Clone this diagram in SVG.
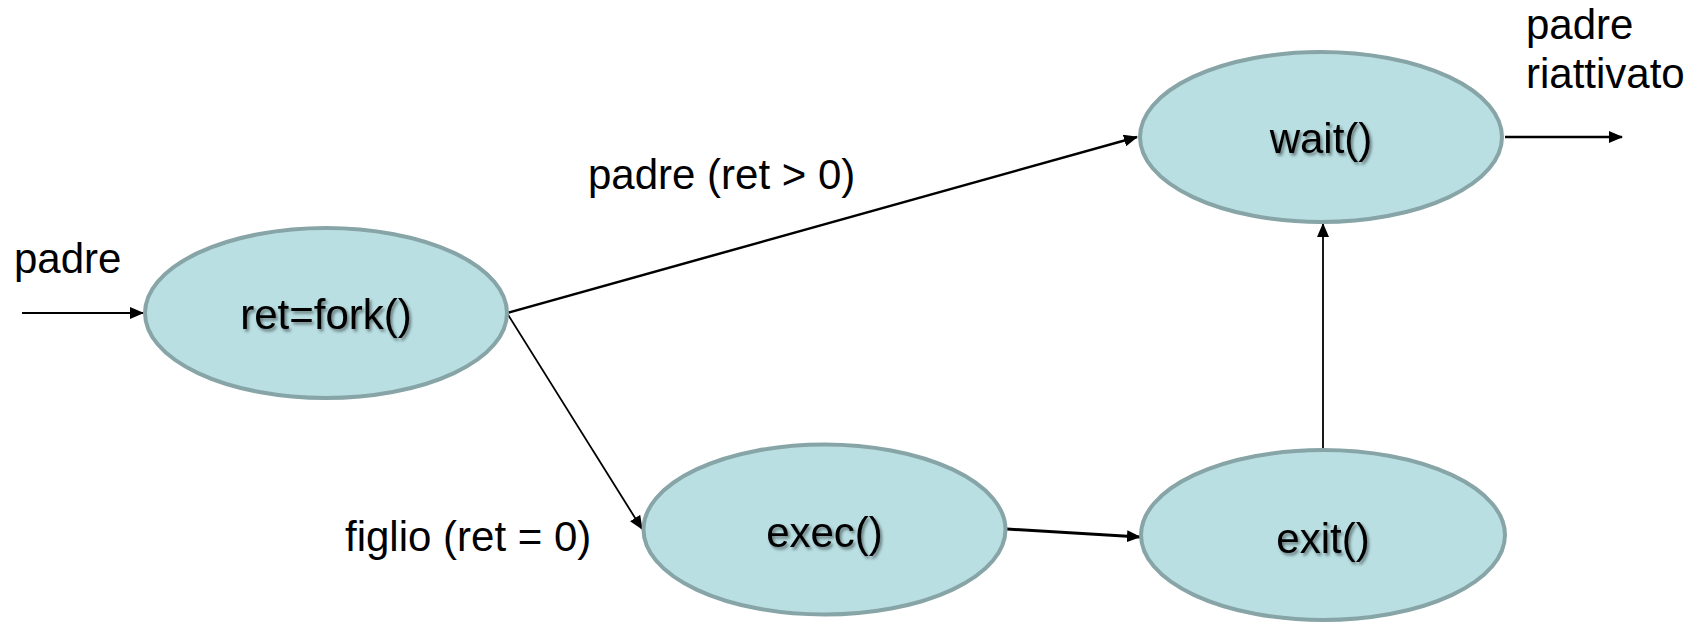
<svg xmlns="http://www.w3.org/2000/svg" width="1700" height="623" viewBox="0 0 1700 623">
<defs>
<marker id="arr" viewBox="0 0 14 12" refX="13" refY="6" markerWidth="14" markerHeight="12" markerUnits="userSpaceOnUse" orient="auto">
<path d="M0,0 L14,6 L0,12 z" fill="#000"/>
</marker>
<filter id="sh" x="-10%" y="-20%" width="130%" height="150%">
<feDropShadow dx="2" dy="2.5" stdDeviation="1.5" flood-color="#000" flood-opacity="0.45"/>
</filter>
</defs>
<style>
.node ellipse{fill:#B9DFE3;stroke:#87A4A7;stroke-width:4}
.node text{font-family:"Liberation Sans",Arial,sans-serif;font-size:42px;fill:#000;text-anchor:middle;filter:url(#sh)}
.lbl{font-family:"Liberation Sans",Arial,sans-serif;font-size:42px;fill:#000}
.edges line{stroke:#000;fill:none;marker-end:url(#arr)}
</style>
<rect width="1700" height="623" fill="#fff"/>
<g class="edges">
<line x1="22" y1="313" x2="143" y2="313" stroke-width="2"/>
<line x1="507" y1="313" x2="1137" y2="137" stroke-width="2.5"/>
<line x1="507" y1="313" x2="642" y2="529" stroke-width="1.8"/>
<line x1="1007" y1="529" x2="1140" y2="537" stroke-width="3"/>
<line x1="1323" y1="448" x2="1323" y2="224" stroke-width="1.8"/>
<line x1="1505" y1="137" x2="1622" y2="137" stroke-width="2.5"/>
</g>
<g id="fork" class="node">
<ellipse cx="326" cy="313" rx="181" ry="85"/>
<text x="326" y="329">ret=fork()</text>
</g>
<g id="wait" class="node">
<ellipse cx="1321" cy="137" rx="181" ry="85"/>
<text x="1321" y="153">wait()</text>
</g>
<g id="exec" class="node">
<ellipse cx="824.5" cy="529.5" rx="181" ry="85"/>
<text x="824.5" y="547">exec()</text>
</g>
<g id="exit" class="node">
<ellipse cx="1323" cy="535" rx="182" ry="85"/>
<text x="1323" y="553">exit()</text>
</g>
<g id="labels">
<text class="lbl" x="14" y="273">padre</text>
<text class="lbl" x="588" y="189">padre (ret &gt; 0)</text>
<text class="lbl" x="345" y="551">figlio (ret = 0)</text>
<text class="lbl" x="1526" y="39">padre</text>
<text class="lbl" x="1526" y="88">riattivato</text>
</g>
</svg>
